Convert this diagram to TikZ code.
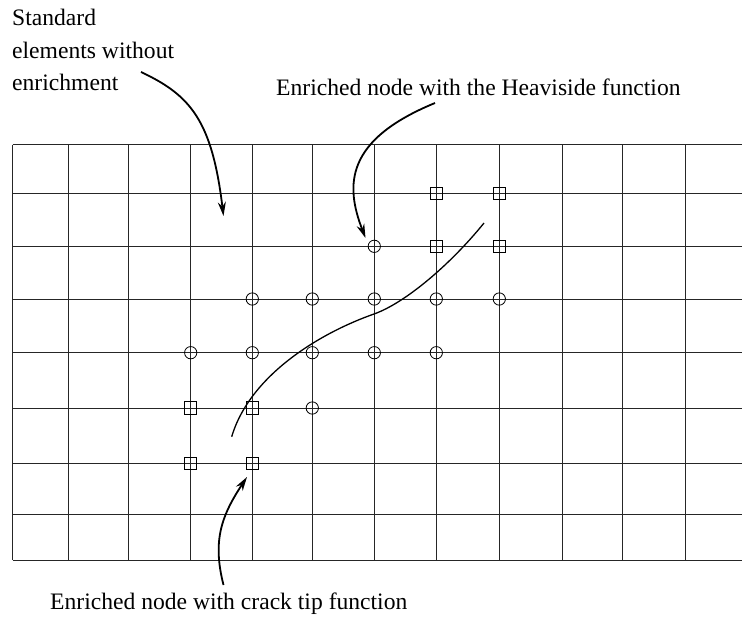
\documentclass[tikz,border=0pt]{standalone}
\usepackage{fontspec}
\setmainfont{Liberation Serif}
\usetikzlibrary{arrows.meta}
\begin{document}
\begin{tikzpicture}[x=1pt,y=-1pt,
  gridline/.style={line width=1pt,black!85},
  hnode/.style={circle,draw,line width=0.8pt,minimum size=12.3pt,inner sep=0pt},
  tnode/.style={rectangle,draw,line width=0.8pt,minimum size=12.3pt,inner sep=0pt},
  crack/.style={line width=1.3pt},
  pointer/.style={line width=1.8pt,-{Stealth[length=14pt,width=8pt]}},
  lbl/.style={inner sep=0pt,font=\fontsize{23.6}{32.5}\selectfont}]
\useasboundingbox (0,0) rectangle (742,622);
% grid
\foreach \y in {144.7,193.3,246.3,299,352.7,408,463.7,514.3,560}
  \draw[gridline] (12.7,\y) -- (742,\y);
\foreach \x in {12.7,68.7,128,190.7,252.3,312.3,374.3,436.3,499.3,562.3,622.7,685}
  \draw[gridline] (\x,144.7) -- (\x,560);
% Heaviside enriched nodes
\foreach \n/\x/\y in {h1/374.3/246.3,
  h2/252.3/299,h3/312.3/299,h4/374.3/299,h5/436.3/299,h6/499.3/299,
  h7/190.7/352.7,h8/252.3/352.7,h9/312.3/352.7,h10/374.3/352.7,h11/436.3/352.7,
  h12/312.3/408}
  \node[hnode] (\n) at (\x,\y) {};
% crack tip enriched nodes
\foreach \n/\x/\y in {t1/436.3/193.3,t2/499.3/193.3,t3/436.3/246.3,t4/499.3/246.3,
  t5/190.7/408,t6/252.3/408,t7/190.7/463.7,t8/252.3/463.7}
  \node[tnode] (\n) at (\x,\y) {};
% crack
\coordinate (cA) at (231.7,436.7);
\coordinate (cM) at (374,314);
\coordinate (cB) at (484,223);
\draw[crack] (cA) .. controls (250,375) and (320,333) .. (cM)
  .. controls (405,303) and (450,265) .. (cB);
% labels
\node[lbl,anchor=north west,align=left] (std) at (12,9) {Standard\\elements without\\enrichment};
\node[lbl,anchor=base west] (hev) at (276,95) {Enriched node with the Heaviside function};
\node[lbl,anchor=base west] (ctf) at (50,609) {Enriched node with crack tip function};
% pointer ends
\coordinate (stdS) at (141,72);
\coordinate (stdE) at (223.5,216);
\coordinate (hevS) at (435,103);
\coordinate (hevE) at (365.5,238);
\coordinate (ctfS) at (223.5,585);
\coordinate (ctfE) at (247,477);
\draw[pointer] (stdS) .. controls (190,95) and (212,120) .. (stdE);
\draw[pointer] (hevS) .. controls (345,140) and (345,185) .. (hevE);
\draw[pointer] (ctfS) .. controls (212,540) and (222,515) .. (ctfE);
\end{tikzpicture}
\end{document}
